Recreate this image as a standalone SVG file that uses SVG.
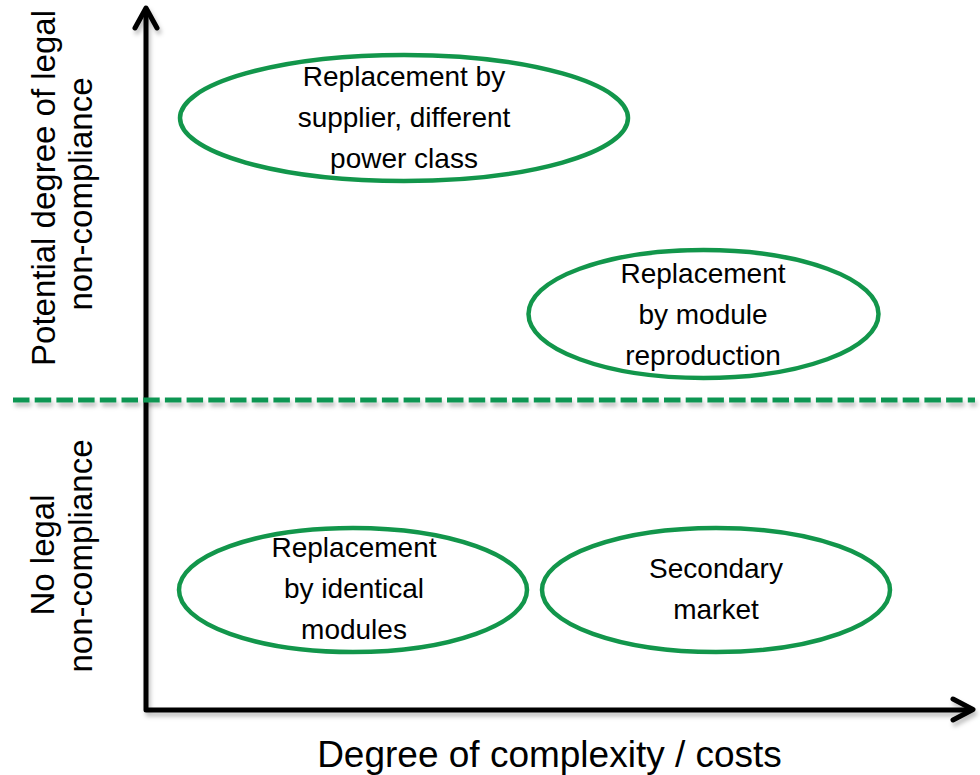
<svg xmlns="http://www.w3.org/2000/svg" width="980" height="775" viewBox="0 0 980 775">
<style>
.ell{fill:none;stroke:#12964B;stroke-width:4.5}
.t{font-family:"Liberation Sans",Arial,sans-serif;font-size:28px;fill:#000;text-anchor:middle}
.ax{fill:none;stroke:#000;stroke-width:5;stroke-linecap:round;stroke-linejoin:round}
.lab{font-family:"Liberation Sans",Arial,sans-serif;font-size:33px;fill:#000;text-anchor:middle}
</style>
<defs>
<filter id="sh" filterUnits="userSpaceOnUse" x="0" y="0" width="980" height="775">
<feDropShadow dx="2" dy="4" stdDeviation="2" flood-color="#000" flood-opacity="0.25"/>
</filter>
</defs>
<rect width="980" height="775" fill="#fff"/>
<g id="axes" filter="url(#sh)">
<path class="ax" d="M146,12 V710 H970" stroke-linecap="butt" stroke-linejoin="miter"/>
<path class="ax" d="M135,28 L146,8 L157,28"/>
<path class="ax" d="M953,699 L973,709.5 L953,720"/>
</g>
<g id="divider" filter="url(#sh)">
<line x1="13" y1="400" x2="975" y2="400" stroke="#0F9652" stroke-width="5" stroke-dasharray="16.5 5.2"/>
</g>
<g id="node1">
<ellipse class="ell" cx="404" cy="118" rx="224" ry="63"/>
<text class="t" x="404" y="86">Replacement by</text>
<text class="t" x="404" y="127">supplier, different</text>
<text class="t" x="404" y="168">power class</text>
</g>
<g id="node2">
<ellipse class="ell" cx="703.5" cy="314" rx="175" ry="64"/>
<text class="t" x="703" y="283">Replacement</text>
<text class="t" x="703" y="324">by module</text>
<text class="t" x="703" y="365">reproduction</text>
</g>
<g id="node3">
<ellipse class="ell" cx="353" cy="590" rx="174" ry="62"/>
<text class="t" x="354" y="557">Replacement</text>
<text class="t" x="354" y="598">by identical</text>
<text class="t" x="354" y="639">modules</text>
</g>
<g id="node4">
<ellipse class="ell" cx="716" cy="590" rx="174" ry="62"/>
<text class="t" x="716" y="578">Secondary</text>
<text class="t" x="716" y="619">market</text>
</g>
<g id="ylabels">
<text class="lab" transform="translate(55,188) rotate(-90)">Potential degree of legal</text>
<text class="lab" transform="translate(92,194) rotate(-90)">non-compliance</text>
<text class="lab" transform="translate(54,555) rotate(-90)">No legal</text>
<text class="lab" transform="translate(92,556) rotate(-90)">non-compliance</text>
</g>
<g id="xlabel">
<text class="lab" x="549.5" y="767" style="font-size:37px">Degree of complexity / costs</text>
</g>
</svg>
